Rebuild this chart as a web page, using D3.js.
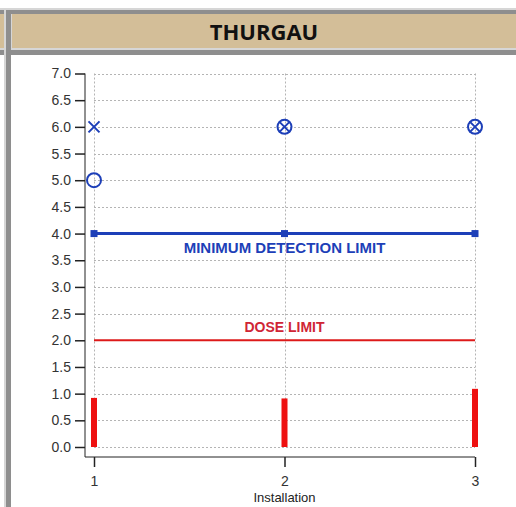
<!DOCTYPE html>
<html>
<head>
<meta charset="utf-8">
<script src="https://cdn.jsdelivr.net/npm/d3@7"></script>
<style>
  body { margin: 0; background: #fff; }
  svg { display: block; }
</style>
</head>
<body>
<div id="chart"></div>
<script>
const title = 'THURGAU'
const installations = [1, 2, 3]
const measuredDose = [0.92, 0.91, 1.09]
const detectionLimit = [4, 4, 4]
const doseLimit = [2, 2, 2]
const crossPoints = [[1, 6], [2, 6], [3, 6]]
const circlePoints = [[1, 5], [2, 6], [3, 6]]
const yTicks = d3.range(0, 7.01, 0.5)

const width = 516
const height = 507
const blue = '#1d3fb8'
const red = '#ee1111'

const svg = d3.select('#chart')
  .append('svg')
  .attr('width', width)
  .attr('height', height)

// table frame around the chart
const frame = svg.append('g')
frame.append('rect').attr('x', 0).attr('y', 8).attr('width', width).attr('height', 2).attr('fill', '#d6d6d6')
frame.append('rect').attr('x', 0).attr('y', 10).attr('width', width).attr('height', 4).attr('fill', '#8e8e8e')
frame.append('rect').attr('x', 0).attr('y', 14).attr('width', width).attr('height', 34).attr('fill', '#d3be98')
frame.append('rect').attr('x', 0).attr('y', 48).attr('width', width).attr('height', 2).attr('fill', '#d6d6d6')
frame.append('rect').attr('x', 0).attr('y', 50).attr('width', width).attr('height', 5).attr('fill', '#8e8e8e')
frame.append('rect').attr('x', 4).attr('y', 10).attr('width', 2).attr('height', height).attr('fill', '#d6d6d6')
frame.append('rect').attr('x', 6).attr('y', 10).attr('width', 5).attr('height', height).attr('fill', '#8e8e8e')
frame.append('rect').attr('x', 11).attr('y', 14).attr('width', 1).attr('height', 34).attr('fill', '#d6d6d6')

svg.append('text')
  .attr('x', 264)
  .attr('y', 40)
  .attr('text-anchor', 'middle')
  .attr('font-family', 'Open Sans, sans-serif')
  .attr('font-weight', 'bold')
  .attr('font-size', '22px')
  .attr('fill', '#111')
  .text(title)

const x = d3.scaleLinear().domain([1, 3]).range([94, 475])
const y = d3.scaleLinear().domain([0, 7]).range([447, 73.5])

// grid
const grid = svg.append('g')
  .attr('stroke', '#b4b4b4')
  .attr('stroke-width', 1)
  .attr('stroke-dasharray', '2,2')
grid.selectAll('line.h')
  .data(yTicks)
  .join('line')
  .attr('class', 'h')
  .attr('x1', x(1)).attr('x2', x(3))
  .attr('y1', d => Math.round(y(d)) + 0.5)
  .attr('y2', d => Math.round(y(d)) + 0.5)
grid.selectAll('line.v')
  .data(installations)
  .join('line')
  .attr('class', 'v')
  .attr('x1', d => Math.round(x(d)) + 0.5)
  .attr('x2', d => Math.round(x(d)) + 0.5)
  .attr('y1', y(7)).attr('y2', y(0))

// axes
const axisX = 85
const axisY = 457
const yAxis = svg.append('g')
  .attr('transform', `translate(${axisX},0)`)
  .call(d3.axisLeft(y).tickValues(yTicks).tickSize(10).tickPadding(4).tickFormat(d3.format('.1f')))
yAxis.select('.domain').remove()
yAxis.append('line')
  .attr('x1', 0).attr('x2', 0)
  .attr('y1', y(7)).attr('y2', axisY)
  .attr('stroke', '#222')

const xAxis = svg.append('g')
  .attr('transform', `translate(0,${axisY})`)
  .call(d3.axisBottom(x).tickValues(installations).tickSize(10).tickPadding(9).tickFormat(d3.format('d')))
xAxis.select('.domain').remove()
xAxis.append('line')
  .attr('x1', axisX).attr('x2', x(3))
  .attr('y1', 0).attr('y2', 0)
  .attr('stroke', '#222')

svg.selectAll('.tick line').attr('stroke', '#222').attr('stroke-width', 1.5)
svg.selectAll('.tick text')
  .attr('font-family', 'Liberation Sans, Arial, sans-serif')
  .attr('font-size', '14px')
  .attr('fill', '#333')

svg.append('text')
  .attr('x', x(2))
  .attr('y', 502)
  .attr('text-anchor', 'middle')
  .attr('font-family', 'Liberation Sans, Arial, sans-serif')
  .attr('font-size', '13px')
  .attr('fill', '#222')
  .text('Installation')

// measured dose bars
svg.selectAll('rect.dose')
  .data(installations)
  .join('rect')
  .attr('class', 'dose')
  .attr('x', d => x(d) - 3)
  .attr('width', 6)
  .attr('y', (d, i) => y(measuredDose[i]))
  .attr('height', (d, i) => y(0) - y(measuredDose[i]))
  .attr('fill', red)

// dose limit
const line = d3.line().x(d => x(d[0])).y(d => y(d[1]))
svg.append('path')
  .datum(installations.map((d, i) => [d, doseLimit[i]]))
  .attr('d', line)
  .attr('fill', 'none')
  .attr('stroke', '#dd1a1a')
  .attr('stroke-width', 2)
svg.append('text')
  .attr('x', x(2))
  .attr('y', y(2) - 8)
  .attr('text-anchor', 'middle')
  .attr('font-family', 'Liberation Sans, Arial, sans-serif')
  .attr('font-weight', 'bold')
  .attr('font-size', '14px')
  .attr('fill', '#d02535')
  .text('DOSE LIMIT')

// minimum detection limit
svg.append('path')
  .datum(installations.map((d, i) => [d, detectionLimit[i]]))
  .attr('d', line)
  .attr('fill', 'none')
  .attr('stroke', blue)
  .attr('stroke-width', 3)
svg.selectAll('rect.mdl')
  .data(installations)
  .join('rect')
  .attr('class', 'mdl')
  .attr('x', d => x(d) - 3.5)
  .attr('y', (d, i) => y(detectionLimit[i]) - 3.5)
  .attr('width', 7)
  .attr('height', 7)
  .attr('fill', blue)
svg.append('text')
  .attr('x', x(2))
  .attr('y', y(4) + 19)
  .attr('text-anchor', 'middle')
  .attr('font-family', 'Liberation Sans, Arial, sans-serif')
  .attr('font-weight', 'bold')
  .attr('font-size', '15px')
  .attr('fill', blue)
  .text('MINIMUM DETECTION LIMIT')

// markers
svg.selectAll('circle.pt')
  .data(circlePoints)
  .join('circle')
  .attr('class', 'pt')
  .attr('cx', d => x(d[0]))
  .attr('cy', d => y(d[1]))
  .attr('r', 7)
  .attr('fill', 'none')
  .attr('stroke', blue)
  .attr('stroke-width', 2)
const s = 5.5
svg.selectAll('path.cross')
  .data(crossPoints)
  .join('path')
  .attr('class', 'cross')
  .attr('d', d => {
    const cx = x(d[0])
    const cy = y(d[1])
    return `M${cx - s},${cy - s}L${cx + s},${cy + s}M${cx - s},${cy + s}L${cx + s},${cy - s}`
  })
  .attr('stroke', blue)
  .attr('stroke-width', 2)
</script>
</body>
</html>
